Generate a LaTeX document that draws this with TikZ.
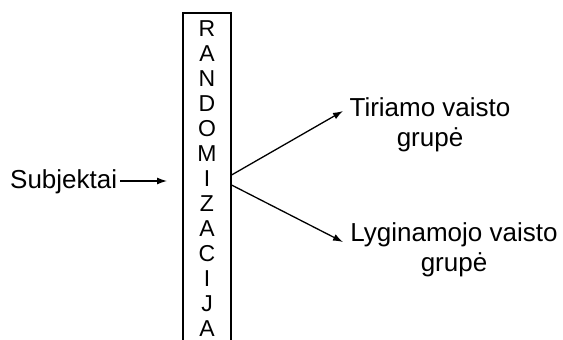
\documentclass[tikz,border=0pt]{standalone}
\usepackage{fontspec}
\setmainfont{Liberation Sans}
\usetikzlibrary{arrows.meta}
\tikzset{
  lbl/.style={font=\fontsize{26}{30}\selectfont, inner sep=0pt, align=center},
  letter/.style={font=\fontsize{23}{25}\selectfont, inner sep=0pt, anchor=base},
  conn/.style={line width=1.3pt, -{Latex[length=10pt,width=7pt]}},
  boxst/.style={draw, line width=1.1pt, minimum width=48pt, minimum height=332pt, inner sep=0pt}
}
\begin{document}
\begin{tikzpicture}[x=1pt,y=-1pt]
\useasboundingbox (0,0) rectangle (563,340);
\node[boxst] (box) at (207,179) {};
\foreach \L [count=\i from 0] in {R,A,N,D,O,M,I,Z,A,C,I,J,A} {
  \node[letter] (l\i) at (207,{36+25*\i}) {\L};
}
\node[lbl, anchor=base west] (subj) at (10,188) {Subjektai};
\coordinate (subjend) at (167,181);
\draw[conn] ([xshift=3pt]subj.east |- subjend) -- (subjend);
\node[lbl] (tir) at (430,124.5) {Tiriamo vaisto\\grupė};
\node[lbl] (lyg) at (454,249.5) {Lyginamojo vaisto\\grupė};
\coordinate (tirend) at (343,111);
\coordinate (lygend) at (343,242);
\draw[conn] ([yshift=4pt]box.east) -- (tirend);
\draw[conn] ([yshift=-6pt]box.east) -- (lygend);
\end{tikzpicture}
\end{document}
